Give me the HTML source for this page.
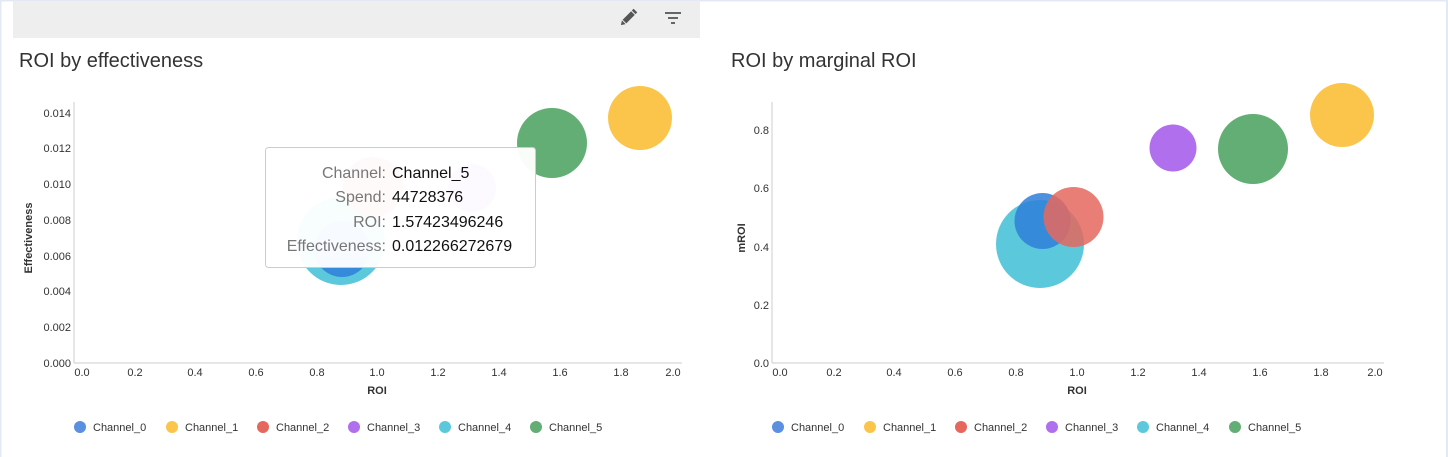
<!DOCTYPE html>
<html><head><meta charset="utf-8"><style>
html,body{margin:0;padding:0;background:#fff;width:1448px;height:457px;overflow:hidden}
svg{display:block;font-family:"Liberation Sans",sans-serif}
</style></head><body>
<svg width="1448" height="457" viewBox="0 0 1448 457">
<rect x="0" y="0" width="1448" height="1.5" fill="#e3e9f3"/>
<rect x="0" y="0" width="1.5" height="457" fill="#e3e9f3"/>
<rect x="1446" y="0" width="2" height="457" fill="#e3e9f3"/>
<rect x="13" y="1" width="687" height="37" fill="#eeeeee"/>
<!-- pencil -->
<g transform="translate(628,18) rotate(45)" fill="#555">
<rect x="-2.6" y="-7" width="5.2" height="12"/>
<polygon points="-2.6,6 2.6,6 0,10"/>
<rect x="-2.6" y="-10.5" width="5.2" height="2.5"/>
</g>
<!-- filter -->
<g fill="#666">
<rect x="665" y="12" width="16" height="2"/>
<rect x="668" y="17" width="10" height="2"/>
<rect x="671" y="22" width="4" height="2"/>
</g>
<text x="19" y="67" font-size="20" fill="#333">ROI by effectiveness</text>
<text x="731" y="67" font-size="20" fill="#333">ROI by marginal ROI</text>

<!-- LEFT CHART -->
<g font-size="11" fill="#333">
<line x1="74" y1="102" x2="74" y2="363" stroke="#ccc"/>
<line x1="74" y1="363" x2="682" y2="363" stroke="#ccc"/>
<g text-anchor="end">
<text x="71" y="117">0.014</text><text x="71" y="152">0.012</text><text x="71" y="188">0.010</text>
<text x="71" y="224">0.008</text><text x="71" y="260">0.006</text><text x="71" y="295">0.004</text>
<text x="71" y="331">0.002</text><text x="71" y="367">0.000</text>
</g>
<g text-anchor="middle">
<text x="82" y="376">0.0</text><text x="135" y="376">0.2</text><text x="195" y="376">0.4</text>
<text x="256" y="376">0.6</text><text x="317" y="376">0.8</text><text x="377" y="376">1.0</text>
<text x="438" y="376">1.2</text><text x="499" y="376">1.4</text><text x="560" y="376">1.6</text>
<text x="621" y="376">1.8</text><text x="673" y="376">2.0</text>
</g>
<text x="377" y="394" text-anchor="middle" font-weight="bold">ROI</text>
<text transform="translate(32,238) rotate(-90)" text-anchor="middle" font-weight="bold">Effectiveness</text>
</g>
<circle cx="341" cy="241" r="44" fill="#5bc9db"/>
<circle cx="342" cy="249" r="28" fill="#2f7fd9" opacity="0.85"/>
<circle cx="373" cy="187" r="30" fill="#e5675e" opacity="0.85"/>
<circle cx="472" cy="188" r="24" fill="#b06fec"/>
<circle cx="552" cy="143" r="35" fill="#62ae74"/>
<circle cx="640" cy="118" r="32" fill="#fbc54c"/>
<rect x="265.5" y="147.5" width="270" height="120" rx="3" fill="#fff" fill-opacity="0.96" stroke="#ccc"/>
<g font-size="16">
<text x="386" y="178" text-anchor="end" fill="#777">Channel:</text><text x="392" y="178" fill="#111">Channel_5</text>
<text x="386" y="202" text-anchor="end" fill="#777">Spend:</text><text x="392" y="202" fill="#111">44728376</text>
<text x="386" y="227" text-anchor="end" fill="#777">ROI:</text><text x="392" y="227" fill="#111">1.57423496246</text>
<text x="386" y="251" text-anchor="end" fill="#777">Effectiveness:</text><text x="392" y="251" fill="#111">0.012266272679</text>
</g>
<g font-size="11" fill="#333">
<circle cx="80" cy="427" r="6" fill="#5b8fe0"/><text x="93" y="431">Channel_0</text>
<circle cx="172" cy="427" r="6" fill="#fbc54c"/><text x="185" y="431">Channel_1</text>
<circle cx="263" cy="427" r="6" fill="#e5675e"/><text x="276" y="431">Channel_2</text>
<circle cx="354" cy="427" r="6" fill="#b06fec"/><text x="367" y="431">Channel_3</text>
<circle cx="445" cy="427" r="6" fill="#5bc9db"/><text x="458" y="431">Channel_4</text>
<circle cx="536" cy="427" r="6" fill="#62ae74"/><text x="549" y="431">Channel_5</text>
</g>

<!-- RIGHT CHART -->
<g font-size="11" fill="#333">
<line x1="772" y1="102" x2="772" y2="363" stroke="#ccc"/>
<line x1="772" y1="363" x2="1384" y2="363" stroke="#ccc"/>
<g text-anchor="end">
<text x="769" y="134">0.8</text><text x="769" y="192">0.6</text><text x="769" y="251">0.4</text>
<text x="769" y="309">0.2</text><text x="769" y="367">0.0</text>
</g>
<g text-anchor="middle">
<text x="780" y="376">0.0</text><text x="834" y="376">0.2</text><text x="894" y="376">0.4</text>
<text x="955" y="376">0.6</text><text x="1016" y="376">0.8</text><text x="1077" y="376">1.0</text>
<text x="1138" y="376">1.2</text><text x="1199" y="376">1.4</text><text x="1260" y="376">1.6</text>
<text x="1321" y="376">1.8</text><text x="1375" y="376">2.0</text>
</g>
<text x="1077" y="394" text-anchor="middle" font-weight="bold">ROI</text>
<text transform="translate(745,238) rotate(-90)" text-anchor="middle" font-weight="bold">mROI</text>
</g>
<circle cx="1040" cy="244" r="44" fill="#5bc9db"/>
<circle cx="1042.5" cy="221" r="28" fill="#2f7fd9" opacity="0.85"/>
<circle cx="1073.5" cy="217" r="30" fill="#e5675e" opacity="0.85"/>
<circle cx="1173" cy="148" r="23.5" fill="#b06fec"/>
<circle cx="1253" cy="149" r="35" fill="#62ae74"/>
<circle cx="1342" cy="115" r="32" fill="#fbc54c"/>
<g font-size="11" fill="#333">
<circle cx="778" cy="427" r="6" fill="#5b8fe0"/><text x="791" y="431">Channel_0</text>
<circle cx="870" cy="427" r="6" fill="#fbc54c"/><text x="883" y="431">Channel_1</text>
<circle cx="961" cy="427" r="6" fill="#e5675e"/><text x="974" y="431">Channel_2</text>
<circle cx="1052" cy="427" r="6" fill="#b06fec"/><text x="1065" y="431">Channel_3</text>
<circle cx="1143" cy="427" r="6" fill="#5bc9db"/><text x="1156" y="431">Channel_4</text>
<circle cx="1235" cy="427" r="6" fill="#62ae74"/><text x="1248" y="431">Channel_5</text>
</g>
</svg>
</body></html>
